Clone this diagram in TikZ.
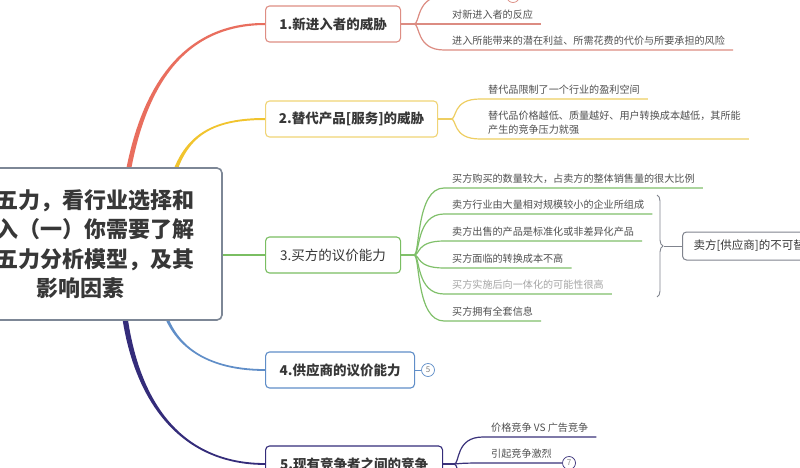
\documentclass[tikz,border=0pt]{standalone}
\usepackage{fontspec}
\setmainfont{Noto Sans CJK SC}
\usepackage{tikz}
\usetikzlibrary{calc,positioning,backgrounds}
\usetikzlibrary{decorations.pathreplacing}

\definecolor{redline}{RGB}{233,110,94}
\definecolor{redbox}{RGB}{222,142,132}
\definecolor{redsub}{RGB}{220,140,130}
\definecolor{yelline}{RGB}{241,196,46}
\definecolor{yelbox}{RGB}{240,212,118}
\definecolor{yelsub}{RGB}{238,206,98}
\definecolor{grnline}{RGB}{122,190,98}
\definecolor{grnsub}{RGB}{128,192,106}
\definecolor{bluline}{RGB}{96,142,200}
\definecolor{navline}{RGB}{52,44,122}
\definecolor{navsub}{RGB}{58,50,122}
\definecolor{rootgray}{RGB}{125,135,150}
\definecolor{sumgray}{RGB}{128,132,142}
\definecolor{txt}{RGB}{55,55,55}
\definecolor{leaftxt}{RGB}{80,80,80}
\definecolor{faintxt}{RGB}{165,165,165}

\tikzset{
	rootbox/.style={draw=rootgray, line width=1.6pt, rounded corners=5pt, fill=white, text=txt,
		font=\fontsize{22}{29.5}\selectfont\bfseries},
	branch/.style={draw, anchor=west, rounded corners=4pt, fill=white, line width=1.1pt,
		minimum height=36pt, text=txt, font=\fontsize{13.5}{16}\selectfont\bfseries},
	leaf/.style={anchor=south west, inner xsep=8pt, inner ysep=4pt, text=leaftxt,
		font=\fontsize{10.1}{14}\selectfont},
	numcirc/.style={circle, draw, line width=0.7pt, minimum size=13pt, inner sep=0pt,
		fill=white, text=gray, font=\fontsize{8}{8}\selectfont},
	subline/.style={line width=1.2pt}
}

\begin{document}
\begin{tikzpicture}[x=1pt,y=-1pt]

	\useasboundingbox (0,0) rectangle (800,468);

	% centre
	\node[rootbox, minimum width=252pt, minimum height=152pt, align=right] (root) at (96,244)
		{五力，看行业选择和\\入（一）你需要了解\\五力分析模型，及其\\影响因素\hspace*{3.2em}};

	% the five forces
	\node[branch, draw=redbox, minimum width=135pt] (b1) at (265,24) {1.新进入者的威胁};
	\node[branch, draw=yelbox, minimum width=172pt] (b2) at (265,119) {2.替代产品[服务]的威胁};
	\node[branch, draw=grnline, minimum width=135pt, font=\fontsize{13.5}{16}\selectfont] (b3) at (265,255) {3.买方的议价能力};
	\node[branch, draw=bluline, minimum width=149pt] (b4) at (265,370) {4.供应商的议价能力};
	\node[branch, draw=navline, minimum width=177pt] (b5) at (265,464) {5.现有竞争者之间的竞争};

	% tapered main branches
	\begin{scope}[on background layer]
		\fill[white] (0,0) rectangle (800,468);
		\fill[redline] ($(root.north)+(25.5,32)$) .. controls (137.5,70) and (195,22.5) .. ($(b1.west)+(0,-1)$)
			-- ($(b1.west)+(0,1)$) .. controls (195,25.5) and (142.5,70) .. ($(root.north)+(30.5,32)$) -- cycle;
		\fill[yelline] ($(root.north)+(69.75,32)$) .. controls (175.8,140) and (205,118) .. ($(b2.west)+(0,-1)$)
			-- ($(b2.west)+(0,1)$) .. controls (205,120) and (180.2,140) .. ($(root.north)+(74.25,32)$) -- cycle;
		\draw[grnline, line width=2.4pt] (root.east |- b3.west) -- (b3.west);
		\fill[bluline] ($(root.south)+(62.25,-30)$) .. controls (163.25,340) and (200,371) .. ($(b4.west)+(0,0.9)$)
			-- ($(b4.west)+(0,-0.9)$) .. controls (200,369) and (166.75,340) .. ($(root.south)+(65.75,-30)$) -- cycle;
		\fill[navline] ($(root.south)+(23.25,-30)$) .. controls (127.25,400) and (180,465) .. ($(b5.west)+(0,0.9)$)
			-- ($(b5.west)+(0,-0.9)$) .. controls (180,463) and (132.75,400) .. ($(root.south)+(28.75,-30)$) -- cycle;
	\end{scope}

	% 1
	\coordinate (f1) at ($(b1.east)+(13,0)$);
	\draw[subline, redsub] (b1.east) -- (f1);
	\coordinate (c1a) at (444,-4);
	\node[numcirc, draw=redsub] (n1) at (513,-4) {};
	\node[leaf] (c1b) at (444,24) {对新进入者的反应};
	\node[leaf] (c1c) at (444,50) {进入所能带来的潜在利益、所需花费的代价与所要承担的风险};
	\draw[subline, redsub] (f1) .. controls +(6,0) and +(-28,0) .. (c1a) -- (n1);
	\foreach \c in {c1b,c1c}{
		\draw[subline, redsub] (f1) .. controls +(6,0) and +(-28,0) .. (\c.south west) -- (\c.south east);
	}

	% 2
	\coordinate (f2) at ($(b2.east)+(13,0)$);
	\draw[subline, yelsub] (b2.east) -- (f2);
	\node[leaf] (c2a) at (480,99) {替代品限制了一个行业的盈利空间};
	\node[leaf, align=left] (c2b) at (480,139) {替代品价格越低、质量越好、用户转换成本越低，其所能\\产生的竞争压力就强};
	\foreach \c in {c2a,c2b}{
		\draw[subline, yelsub] (f2) .. controls +(6,0) and +(-28,0) .. (\c.south west) -- (\c.south east);
	}

	% 3
	\coordinate (f3) at ($(b3.east)+(13,0)$);
	\draw[subline, grnsub] (b3.east) -- (f3);
	\foreach \y/\col/\t [count=\i] in {
		188/leaftxt/买方购买的数量较大，占卖方的整体销售量的很大比例,
		214/leaftxt/卖方行业由大量相对规模较小的企业所组成,
		241/leaftxt/卖方出售的产品是标准化或非差异化产品,
		268/leaftxt/买方面临的转换成本不高,
		294/faintxt/买方实施后向一体化的可能性很高,
		321/leaftxt/买方拥有全套信息}{
		\node[leaf, text=\col] (c3\i) at (444,\y) {\t};
		\draw[subline, grnsub] (f3) .. controls +(6,0) and +(-28,0) .. (c3\i.south west) -- (c3\i.south east);
	}
	\draw[sumgray, line width=0.9pt, decorate, decoration={brace, amplitude=6pt}] (657,195) -- (657,297);
	\coordinate (tip3) at (664,246);
	\node[draw=sumgray, line width=1pt, rounded corners=4pt, fill=white, anchor=west, minimum height=28pt,
		inner xsep=11pt, text=txt, font=\fontsize{11.5}{14}\selectfont] (s3) at (682,246) {卖方[供应商]的不可替};
	\draw[sumgray, line width=0.9pt] (tip3) -- (s3.west);

	% 4
	\node[numcirc, draw=bluline] (n4) at (428,370) {5};
	\draw[bluline, line width=1pt] (b4.east) -- (n4);

	% 5
	\coordinate (f5) at ($(b5.east)+(11,0)$);
	\draw[subline, navsub] (b5.east) -- (f5);
	\node[leaf] (c5a) at (483,437) {价格竞争 VS 广告竞争};
	\node[leaf] (c5b) at (483,463) {引起竞争激烈};
	\node[numcirc, draw=navsub] (n7) at (569,463) {7};
	\coordinate (c5c) at (483,494);
	\draw[subline, navsub] (f5) .. controls +(6,0) and +(-28,0) .. (c5a.south west) -- (c5a.south east);
	\draw[subline, navsub] (f5) .. controls +(6,0) and +(-28,0) .. (c5b.south west) -- (n7);
	\draw[subline, navsub] (f5) .. controls +(6,0) and +(-28,0) .. (c5c) -- ++(80,0);

\end{tikzpicture}
\end{document}
